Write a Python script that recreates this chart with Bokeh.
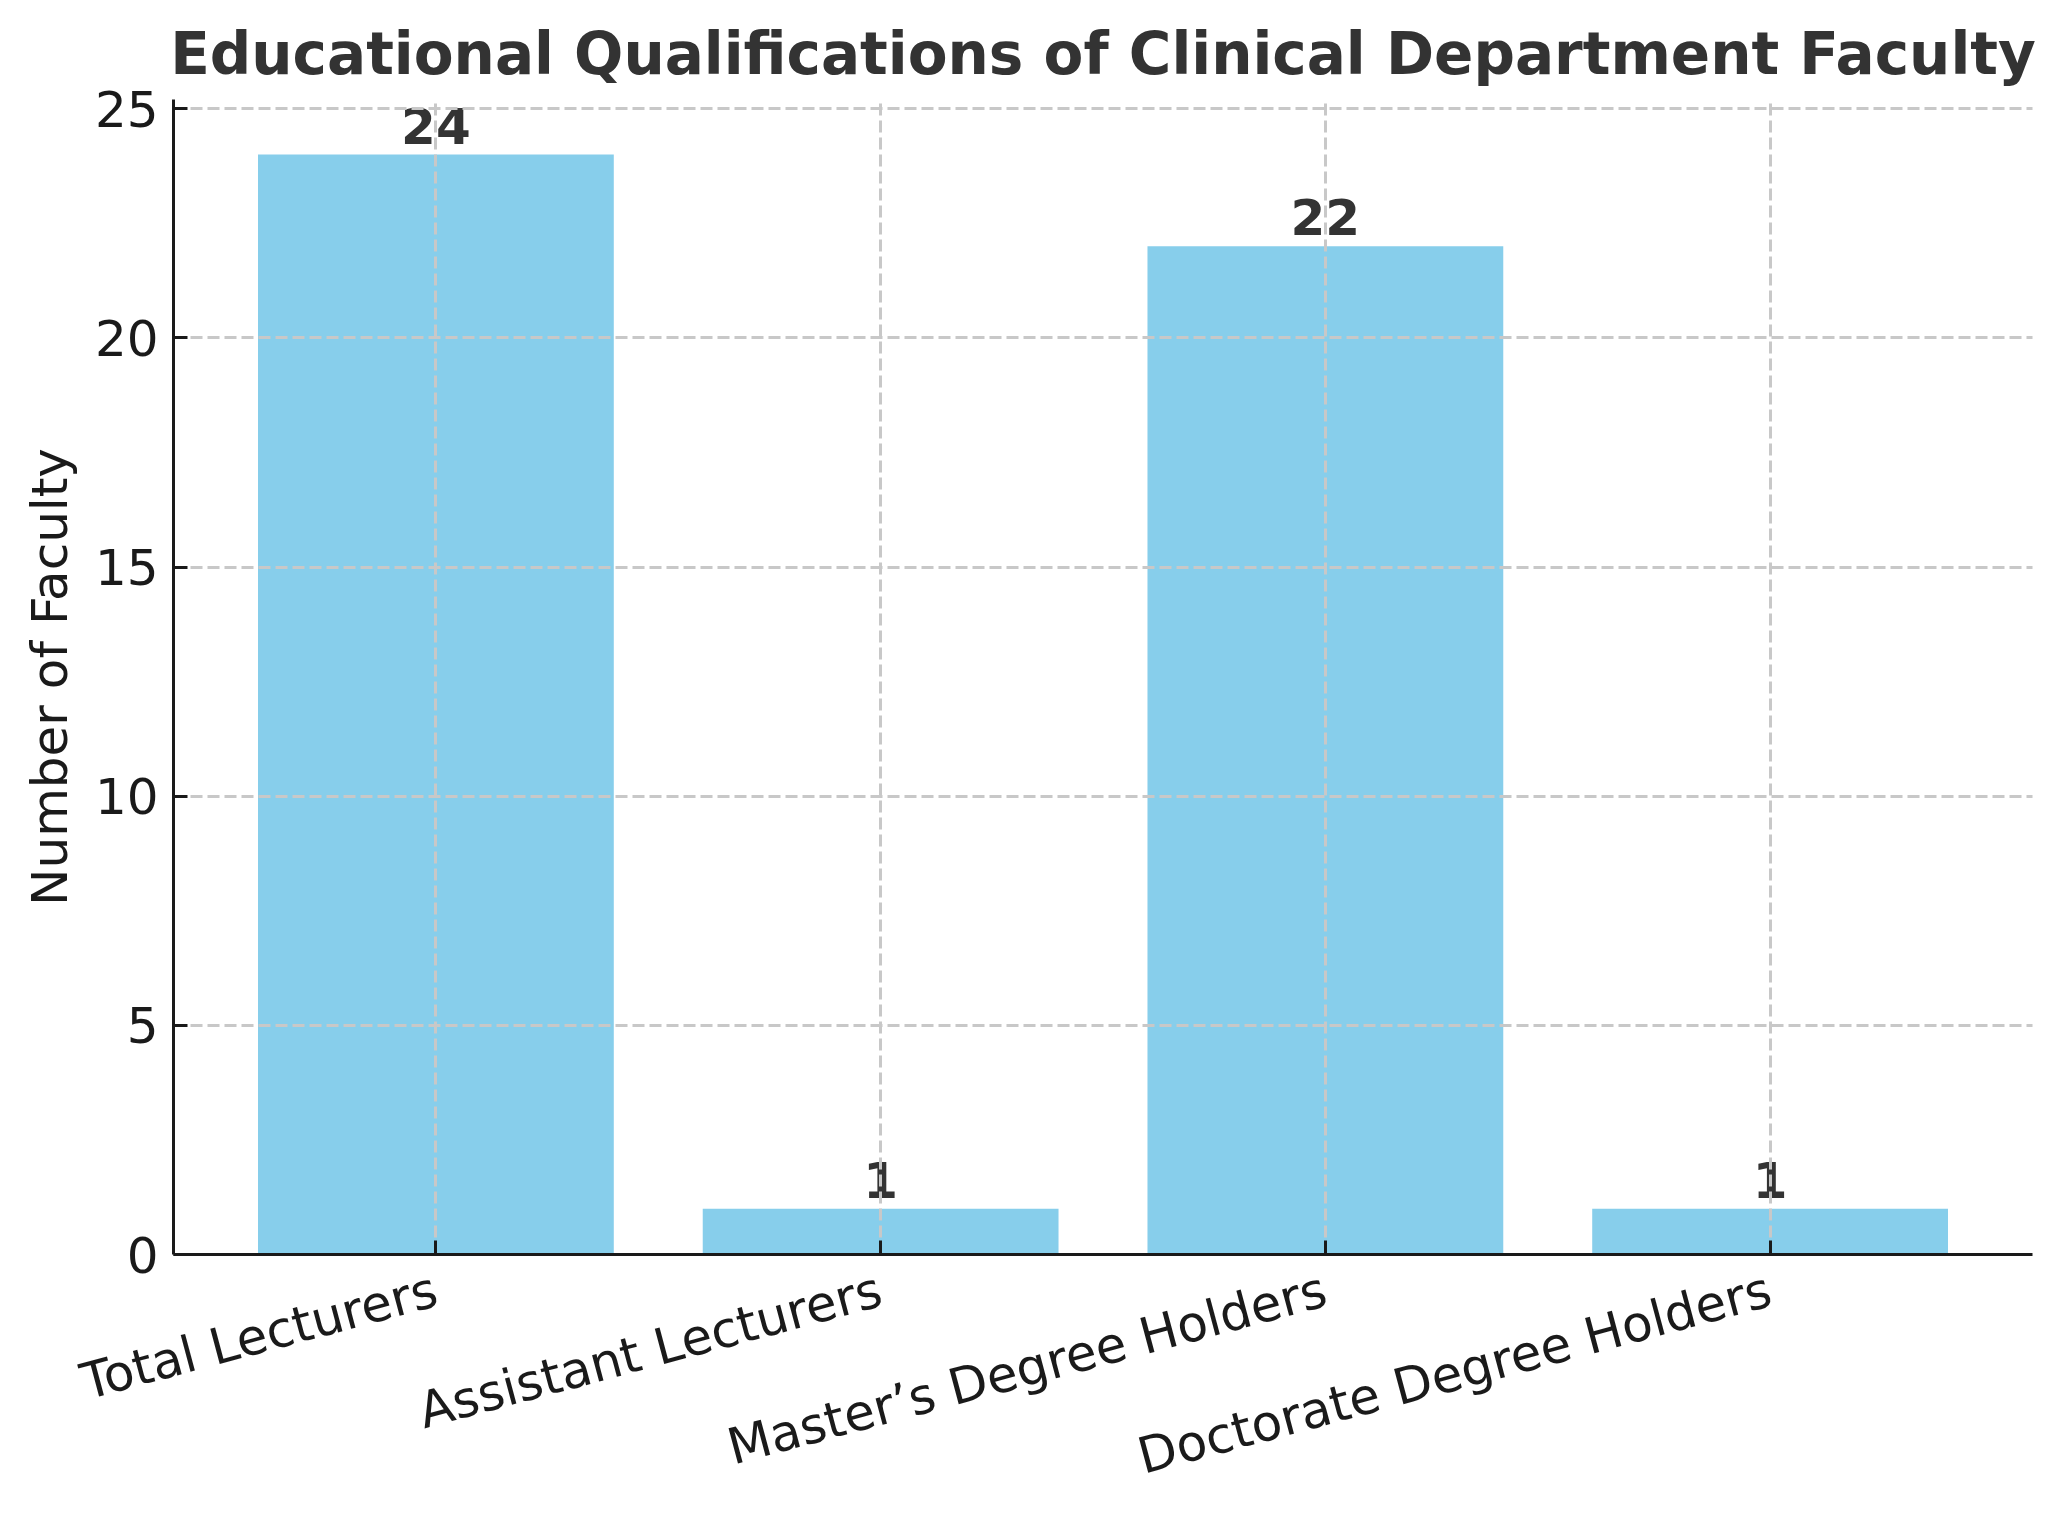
import math
from bokeh.plotting import figure
from bokeh.models import ColumnDataSource, Range1d, FixedTicker
from bokeh.core.properties import value
from bokeh.embed import file_html
from bokeh.resources import INLINE

# ---- data ----
categories = ["Total Lecturers", "Assistant Lecturers", "Master\u2019s Degree Holders", "Doctorate Degree Holders"]
counts = [24, 1, 22, 1]
y_ticks = [0, 5, 10, 15, 20, 25]

FONT = "DejaVu Sans"
positions = list(range(len(categories)))

src = ColumnDataSource(dict(
    x=positions,
    top=counts,
    label=[str(c) for c in counts],
))

p = figure(
    frame_width=1859, frame_height=1155,
    x_range=Range1d(-0.59, len(categories) - 1 + 0.59),
    y_range=Range1d(0, max(counts) * 1.05),
    output_backend="svg", toolbar_location=None,
    min_border_left=173, min_border_right=24,
    min_border_top=99, min_border_bottom=20,
)
p.outline_line_color = None
p.background_fill_color = "white"
p.border_fill_color = "white"

# title
p.title.text = "Educational Qualifications of Clinical Department Faculty"
p.title.text_font = FONT
p.title.text_font_size = "58px"
p.title.text_font_style = "bold"
p.title.text_color = "#333333"
p.title.align = "center"
p.title.standoff = 23

# bars
p.vbar(x="x", top="top", width=0.8, source=src, fill_color="#87CEEB", line_color=None)

# value labels
p.text(x="x", y="top", text="label", source=src,
       text_font=value(FONT), text_font_size="50px", text_font_style="bold",
       text_color="#333333", text_align="center", text_baseline="alphabetic",
       y_offset=-29)

# axes
for ax in (p.xaxis[0], p.yaxis[0]):
    ax.axis_line_color = "#1a1a1a"
    ax.axis_line_width = 3
    ax.major_tick_line_color = "#1a1a1a"
    ax.major_tick_line_width = 3
    ax.major_tick_in = 14
    ax.major_tick_out = 0
    ax.minor_tick_line_color = None
    ax.major_label_text_font = FONT
    ax.major_label_text_font_size = "50px"
    ax.major_label_text_color = "#1a1a1a"
    ax.level = "overlay"

p.yaxis.major_label_standoff = 15
p.xaxis.major_label_standoff = 34

p.xaxis.ticker = FixedTicker(ticks=positions)
p.xaxis.major_label_overrides = {i: c for i, c in zip(positions, categories)}
p.xaxis.major_label_orientation = math.radians(15)

p.yaxis.ticker = FixedTicker(ticks=y_ticks)
p.yaxis.axis_label = "Number of Faculty"
p.yaxis.axis_label_text_font = FONT
p.yaxis.axis_label_text_font_size = "50px"
p.yaxis.axis_label_text_font_style = "normal"
p.yaxis.axis_label_text_color = "#1a1a1a"
p.yaxis.axis_label_standoff = 13

# grid (drawn above bars, below axes)
for g in (p.xgrid[0], p.ygrid[0]):
    g.grid_line_color = "#c8c8c8"
    g.grid_line_width = 3
    g.grid_line_dash = "12 5"
    g.level = "annotation"
p.xgrid.ticker = FixedTicker(ticks=positions)
p.ygrid.ticker = FixedTicker(ticks=y_ticks)

open("out.html", "w").write(file_html(p, INLINE))
